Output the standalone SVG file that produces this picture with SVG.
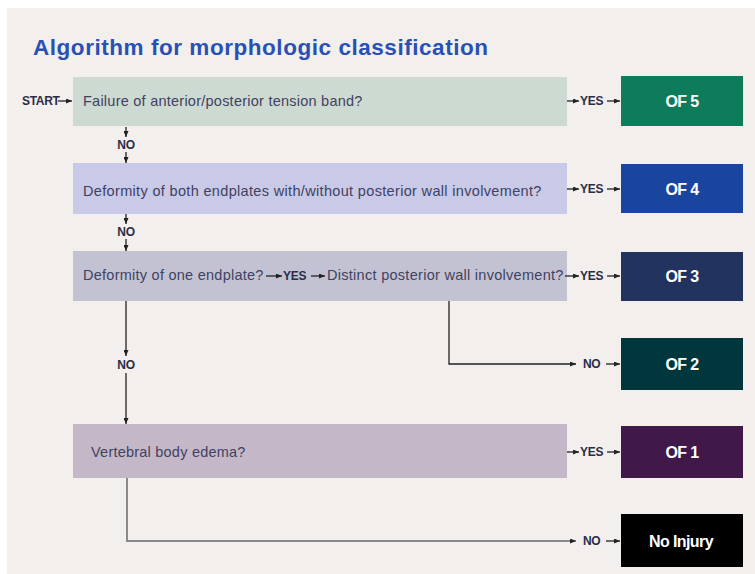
<svg xmlns="http://www.w3.org/2000/svg" width="755" height="574" viewBox="0 0 755 574">
<defs>
<marker id="ah" markerWidth="6" markerHeight="5" refX="6" refY="2.5" orient="auto" markerUnits="userSpaceOnUse">
<path d="M0,0 L6,2.5 L0,5 Z" fill="#222"/>
</marker>
<style>
.q{font-family:"Liberation Sans",Arial,sans-serif;font-size:14.5px;fill:#3f4262;letter-spacing:-0.4px}
.lb{font-family:"Liberation Sans",Arial,sans-serif;font-size:12px;font-weight:bold;fill:#2b2d48;letter-spacing:-0.3px}
.of{font-family:"Liberation Sans",Arial,sans-serif;font-size:16px;font-weight:bold;fill:#ffffff;text-anchor:middle;letter-spacing:-0.6px}
.ln{stroke:#222;stroke-width:1.3;fill:none}
.ar{stroke:#222;stroke-width:1.3;fill:none;marker-end:url(#ah)}
</style>
</defs>
<rect x="0" y="0" width="755" height="574" fill="#ffffff"/>
<rect x="7" y="8" width="748" height="566" fill="#f2efec"/>
<text x="33" y="55" font-family="Liberation Sans,Arial,sans-serif" font-size="22.5" font-weight="bold" fill="#2a4fb5" textLength="455">Algorithm for morphologic classification</text>

<g id="q1">
<rect x="73" y="77" width="494" height="49" fill="#cddad1"/>
<text class="q" x="83" y="106" textLength="279">Failure of anterior/posterior tension band?</text>
</g>
<g id="q2">
<rect x="73" y="163" width="494" height="51" fill="#c9c9e8"/>
<text class="q" x="83" y="196" textLength="458">Deformity of both endplates with/without posterior wall involvement?</text>
</g>
<g id="q3">
<rect x="73" y="251" width="494" height="50" fill="#c3c2d2"/>
<text class="q" x="83" y="280" textLength="180">Deformity of one endplate?</text>
<text class="q" x="327" y="280" textLength="236">Distinct posterior wall involvement?</text>
</g>
<g id="q4">
<rect x="73" y="424" width="494" height="54" fill="#c4b8c8"/>
<text class="q" x="91" y="457" textLength="154">Vertebral body edema?</text>
</g>

<g id="of5"><rect x="621" y="76" width="122" height="50" fill="#0e7c5b"/><text class="of" x="682" y="107">OF 5</text></g>
<g id="of4"><rect x="621" y="164" width="122" height="49" fill="#1a459f"/><text class="of" x="682" y="195">OF 4</text></g>
<g id="of3"><rect x="621" y="252" width="122" height="49" fill="#23335f"/><text class="of" x="682" y="282">OF 3</text></g>
<g id="of2"><rect x="621" y="338" width="122" height="52" fill="#00373d"/><text class="of" x="682" y="370">OF 2</text></g>
<g id="of1"><rect x="621" y="426" width="122" height="52" fill="#41184a"/><text class="of" x="682" y="458">OF 1</text></g>
<g id="noinj"><rect x="621" y="514" width="122" height="53" fill="#000000"/><text class="of" x="681" y="547">No Injury</text></g>

<g id="connectors">
<text class="lb" x="22" y="105" font-size="10.5">START</text>
<line class="ar" x1="58" y1="101" x2="72" y2="101"/>
<line class="ar" x1="567" y1="101" x2="579" y2="101"/>
<text class="lb" x="580" y="105">YES</text>
<line class="ar" x1="607" y1="101" x2="620" y2="101"/>
<line class="ar" x1="567" y1="189" x2="579" y2="189"/>
<text class="lb" x="580" y="193">YES</text>
<line class="ar" x1="607" y1="189" x2="620" y2="189"/>
<line class="ar" x1="565" y1="276" x2="579" y2="276"/>
<text class="lb" x="580" y="280">YES</text>
<line class="ar" x1="607" y1="276" x2="620" y2="276"/>
<line class="ar" x1="567" y1="452" x2="579" y2="452"/>
<text class="lb" x="580" y="456">YES</text>
<line class="ar" x1="607" y1="452" x2="620" y2="452"/>
<line class="ar" x1="266" y1="276" x2="282" y2="276"/>
<text class="lb" x="283" y="280">YES</text>
<line class="ar" x1="311" y1="276" x2="325" y2="276"/>
<line class="ar" x1="126" y1="127" x2="126" y2="137"/>
<text class="lb" x="126" y="149" text-anchor="middle">NO</text>
<line class="ar" x1="126" y1="152" x2="126" y2="163"/>
<line class="ar" x1="126" y1="214" x2="126" y2="224"/>
<text class="lb" x="126" y="236" text-anchor="middle">NO</text>
<line class="ar" x1="126" y1="239" x2="126" y2="251"/>
<line class="ar" x1="126" y1="301" x2="126" y2="356"/>
<text class="lb" x="126" y="369" text-anchor="middle">NO</text>
<line class="ar" x1="126" y1="373" x2="126" y2="424"/>
<path class="ar" d="M449,301 V364 H576"/>
<text class="lb" x="583" y="368">NO</text>
<line class="ar" x1="606" y1="364" x2="620" y2="364"/>
<path d="M127,478 V541 H576" stroke="#8a8a8a" stroke-width="2" fill="none" marker-end="url(#ah)"/>
<text class="lb" x="583" y="545">NO</text>
<line class="ar" x1="606" y1="541" x2="620" y2="541"/>
</g>
</svg>
